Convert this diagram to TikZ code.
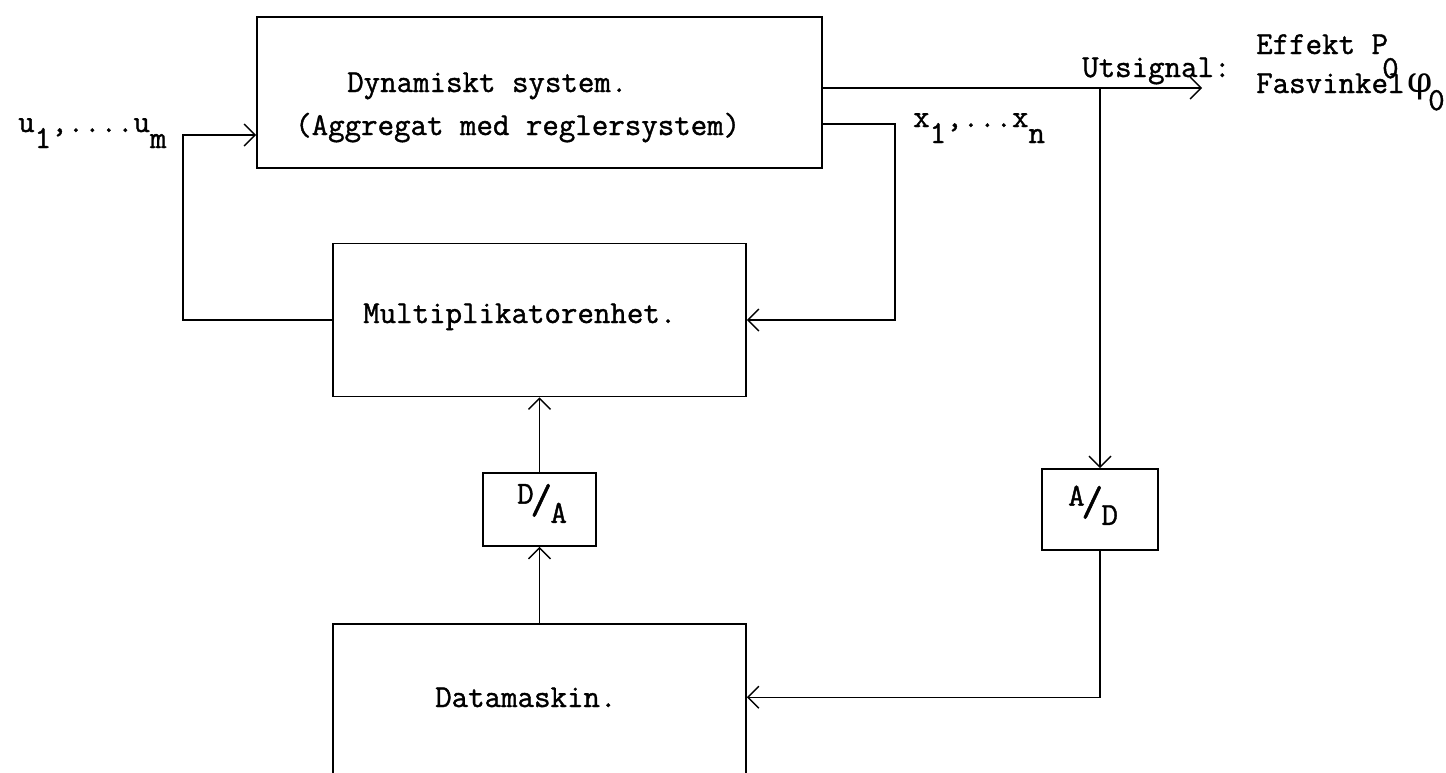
\documentclass[tikz,border=0pt]{standalone}
\usepackage{fontspec}
\newfontfamily\twfont{Latin Modern Mono}[FakeBold=1.2]
\newfontfamily\phifont{DejaVu Serif}
\usetikzlibrary{arrows.meta,calc}
\begin{document}
\begin{tikzpicture}[x=1pt,y=-1pt,
  box/.style={draw, line width=1.6pt, inner sep=0pt, anchor=center},
  conn/.style={line width=1.3pt},
  arr/.style={conn, -{Straight Barb[length=11pt,width=22pt,line width=1.4pt]}},
  txt/.style={font=\fontsize{32}{36}\selectfont\twfont, inner sep=0pt, anchor=base west}]
\useasboundingbox (0,0) rectangle (1446,772);
\clip (0,0) rectangle (1446,772);
% boxes
\node[box, minimum width=565pt, minimum height=151pt] (dyn) at (539.5,92.5) {};
\node[box, minimum width=413pt, minimum height=153pt] (mult) at (539.5,320) {};
\node[box, minimum width=113pt, minimum height=73pt] (da) at (539.5,509.5) {};
\node[box, minimum width=116pt, minimum height=81pt] (ad) at (1100,509.5) {};
\node[box, minimum width=413pt, minimum height=200pt] (dm) at (539.5,724) {};
% texts
\node[txt] (dyn1) at (347,92) {Dynamiskt system.};
\node[txt] (dyn2) at (295,135) {(Aggregat med reglersystem)};
\node[txt] (multt) at (363,323) {Multiplikatorenhet.};
\node[txt] (dmt) at (435,707) {Datamaskin.};
\node[txt] (dat) at (517,510) {\raisebox{0.2em}{D}\kern-0.1em\raisebox{-0.1em}{\fontsize{42}{42}\selectfont/}\kern-0.05em\raisebox{-0.4em}{A}};
\node[txt] (adt) at (1068,512) {\raisebox{0.2em}{A}\kern-0.1em\raisebox{-0.1em}{\fontsize{42}{42}\selectfont/}\kern-0.05em\raisebox{-0.4em}{D}};
\node[txt] (ulab) at (18,132) {u\raisebox{-0.5em}{1},....u\raisebox{-0.5em}{m}};
\node[txt] (xlab) at (913,127) {x\raisebox{-0.5em}{1},...x\raisebox{-0.5em}{n}};
\node[txt] (uts) at (1082,77) {Utsignal:};
\node[txt] (eff) at (1256,54) {Effekt P};
\node[txt] (effz) at (1382,78) {0};
\node[txt] (fas) at (1256,93) {Fasvinkel};
\node[font=\fontsize{36}{36}\selectfont\phifont, inner sep=0pt, anchor=base west] (phi) at (1407,92) {φ};
\node[txt] (phiz) at (1428,110) {0};
% coordinates
\coordinate (inY) at (183,135);
\coordinate (fbS) at (822,124);
\coordinate (fbC) at (895,124);
\coordinate (outS) at (822,88);
\coordinate (br) at (1100,88);
\coordinate (outE) at (1202,88);
\coordinate (dmIn) at ($(dm.north east)+(0,74)$);
% connectors
\draw[arr] (mult.west) -| (inY) -- (inY -| dyn.west);
\draw[arr] (fbS) -- (fbC) |- (mult.east);
\draw[arr] (outS) -- (outE);
\draw[arr] (br) -- (ad.north);
\draw[arr] (ad.south) |- (dmIn);
\draw[arr] (dm.north) -- (da.south);
\draw[arr] (da.north) -- (mult.south);
\end{tikzpicture}
\end{document}
